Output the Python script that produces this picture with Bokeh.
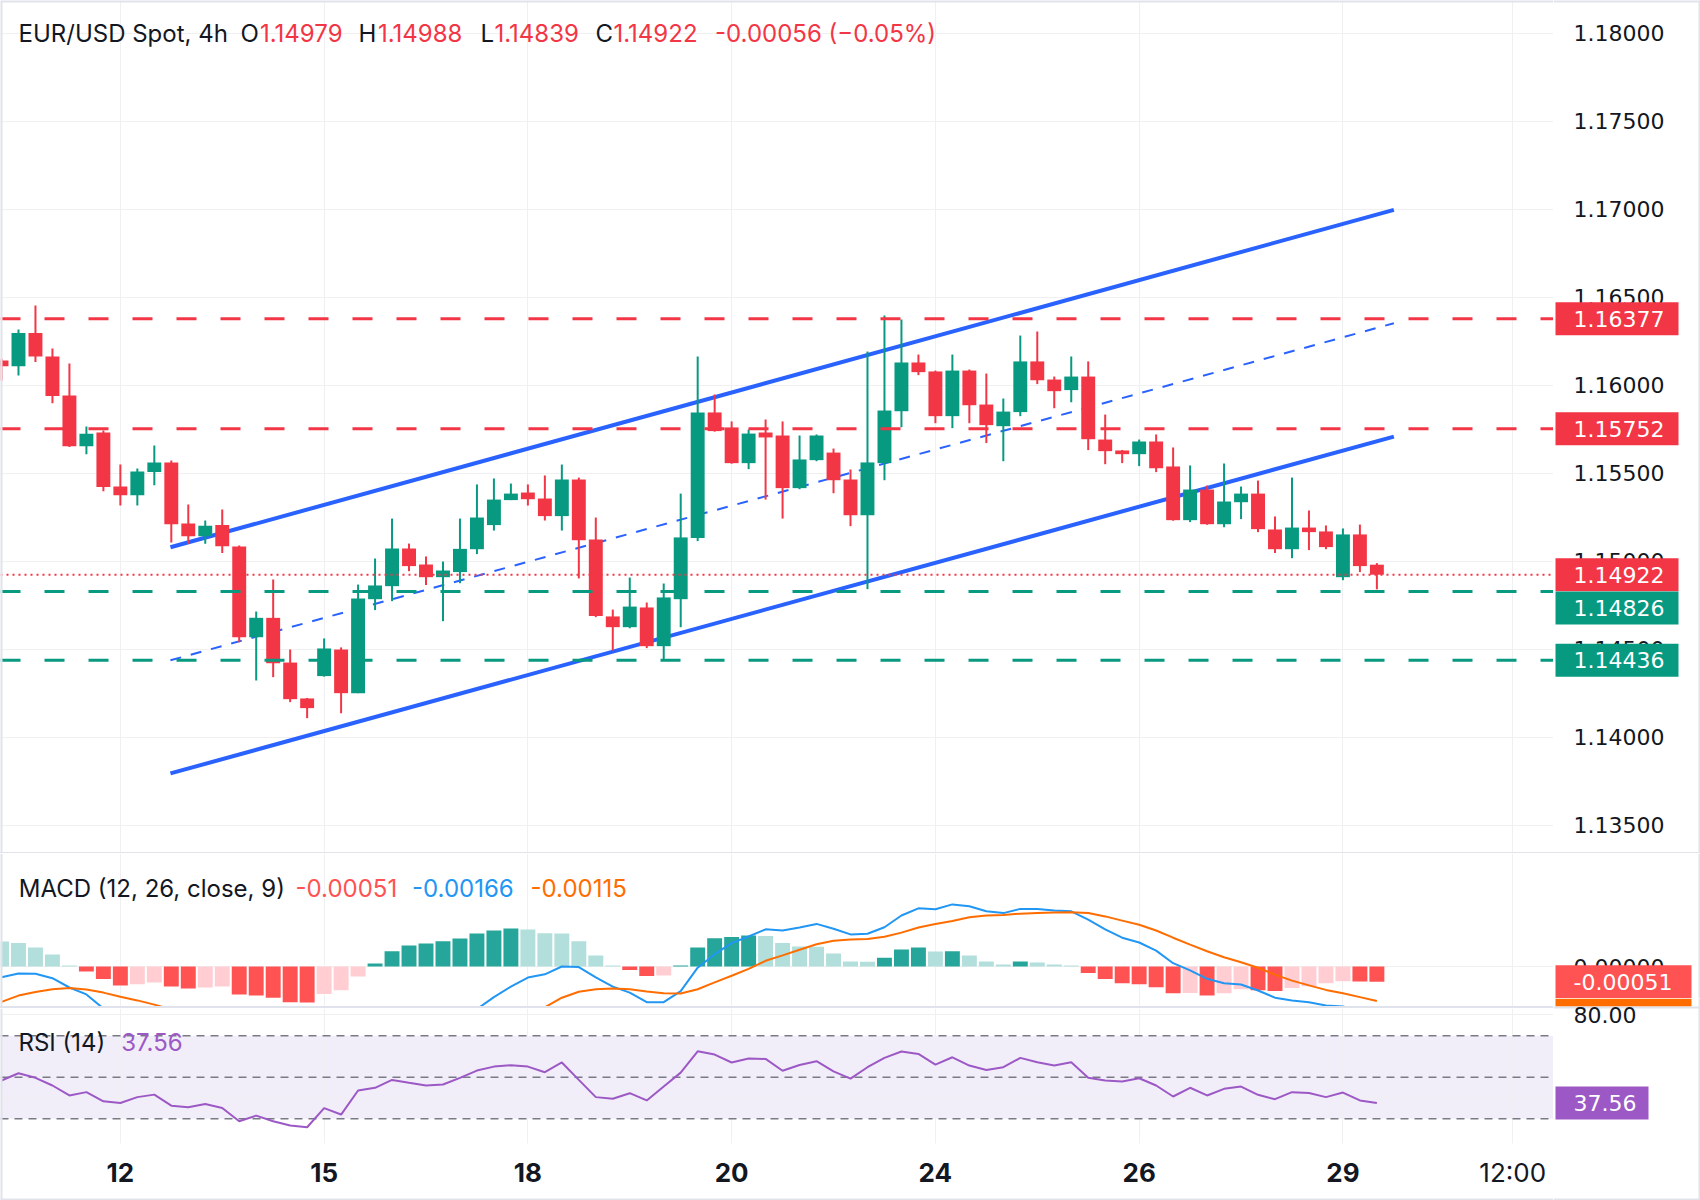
from bokeh.plotting import figure
from bokeh.layouts import column, row
from bokeh.models import Range1d, FixedTicker, Span, Label, BoxAnnotation, Spacer, Grid
from bokeh.core.properties import value
from bokeh.embed import file_html
from bokeh.resources import INLINE

# ---------------- data ----------------
opens = [1.16139, 1.16107, 1.16296, 1.16162, 1.15940, 1.15652, 1.15730, 1.15423, 1.15374, 1.15505,
         1.15560, 1.15213, 1.15141, 1.15205, 1.15082, 1.14567, 1.14677, 1.14423, 1.14219, 1.14346,
         1.14497, 1.14249, 1.14783, 1.14857, 1.15071, 1.14980, 1.14908, 1.14937, 1.15067, 1.15204,
         1.15346, 1.15389, 1.15355, 1.15255, 1.15463, 1.15122, 1.14685, 1.14624, 1.14736, 1.14516,
         1.14783, 1.15130, 1.15844, 1.15759, 1.15556, 1.15730, 1.15713, 1.15414, 1.15573, 1.15616,
         1.15463, 1.15260, 1.15556, 1.15851, 1.16128, 1.16077, 1.15823, 1.16082, 1.15889, 1.15766,
         1.15846, 1.16134, 1.16031, 1.15971, 1.16048, 1.15690, 1.15628, 1.15607, 1.15679, 1.15537,
         1.15232, 1.15406, 1.15209, 1.15334, 1.15383, 1.15179, 1.15067, 1.15190, 1.15168, 1.14908,
         1.15151, 1.14979]
highs = [1.16149, 1.16315, 1.16452, 1.16207, 1.16122, 1.15764, 1.15741, 1.15548, 1.15526, 1.15656,
         1.15571, 1.15321, 1.15230, 1.15293, 1.15088, 1.14713, 1.14895, 1.14497, 1.14222, 1.14560,
         1.14509, 1.14866, 1.15014, 1.15241, 1.15099, 1.15026, 1.14997, 1.15241, 1.15435, 1.15469,
         1.15440, 1.15435, 1.15486, 1.15548, 1.15474, 1.15247, 1.14724, 1.14906, 1.14764, 1.14872,
         1.15383, 1.16162, 1.15946, 1.15793, 1.15747, 1.15804, 1.15793, 1.15713, 1.15719, 1.15639,
         1.15520, 1.16190, 1.16395, 1.16372, 1.16173, 1.16082, 1.16173, 1.16088, 1.16065, 1.15923,
         1.16281, 1.16304, 1.16048, 1.16162, 1.16134, 1.15832, 1.15631, 1.15690, 1.15719, 1.15645,
         1.15543, 1.15429, 1.15554, 1.15423, 1.15457, 1.15253, 1.15474, 1.15287, 1.15202, 1.15185,
         1.15207, 1.14988]
lows = [1.16026, 1.16054, 1.16130, 1.15897, 1.15648, 1.15607, 1.15397, 1.15315, 1.15315, 1.15431,
        1.15105, 1.15098, 1.15098, 1.15045, 1.14539, 1.14321, 1.14340, 1.14198, 1.14107, 1.14343,
        1.14135, 1.14249, 1.14721, 1.14772, 1.14942, 1.14863, 1.14658, 1.14874, 1.15039, 1.15173,
        1.15346, 1.15315, 1.15230, 1.15173, 1.14901, 1.14681, 1.14491, 1.14618, 1.14505, 1.14435,
        1.14624, 1.15113, 1.15735, 1.15553, 1.15522, 1.15349, 1.15241, 1.15408, 1.15567, 1.15385,
        1.15198, 1.14840, 1.15459, 1.15760, 1.16056, 1.15783, 1.15755, 1.15783, 1.15670, 1.15567,
        1.15823, 1.16005, 1.15868, 1.15902, 1.15630, 1.15550, 1.15556, 1.15539, 1.15505, 1.15229,
        1.15221, 1.15206, 1.15192, 1.15238, 1.15164, 1.15045, 1.15016, 1.15062, 1.15067, 1.14891,
        1.14937, 1.14839]
closes = [1.16107, 1.16296, 1.16162, 1.15937, 1.15652, 1.15723, 1.15420, 1.15374, 1.15509, 1.15560,
          1.15209, 1.15141, 1.15200, 1.15084, 1.14567, 1.14677, 1.14419, 1.14215, 1.14164, 1.14503,
          1.14249, 1.14787, 1.14861, 1.15071, 1.14971, 1.14908, 1.14946, 1.15069, 1.15247, 1.15349,
          1.15383, 1.15351, 1.15255, 1.15463, 1.15118, 1.14687, 1.14624, 1.14741, 1.14516, 1.14793,
          1.15134, 1.15844, 1.15738, 1.15556, 1.15724, 1.15702, 1.15414, 1.15577, 1.15713, 1.15459,
          1.15260, 1.15560, 1.15855, 1.16128, 1.16073, 1.15823, 1.16082, 1.15885, 1.15772, 1.15849,
          1.16134, 1.16027, 1.15965, 1.16048, 1.15692, 1.15624, 1.15607, 1.15679, 1.15527, 1.15232,
          1.15406, 1.15209, 1.15338, 1.15383, 1.15181, 1.15067, 1.15190, 1.15164, 1.15079, 1.15151,
          1.14971, 1.14922]

macd_hist = [0.00083, 0.00078, 0.00063, 0.00040, 0.00003, -0.00017, -0.00042, -0.00063, -0.00059, -0.00053,
             -0.00067, -0.00073, -0.00070, -0.00067, -0.00093, -0.00097, -0.00104, -0.00119, -0.00120, -0.00092,
             -0.00079, -0.00033, 0.00010, 0.00051, 0.00070, 0.00077, 0.00084, 0.00093, 0.00110, 0.00120,
             0.00127, 0.00123, 0.00111, 0.00110, 0.00084, 0.00037, 0.00003, -0.00012, -0.00032, -0.00030,
             0.00003, 0.00063, 0.00094, 0.00098, 0.00103, 0.00102, 0.00078, 0.00067, 0.00066, 0.00043,
             0.00017, 0.00016, 0.00029, 0.00057, 0.00063, 0.00050, 0.00051, 0.00037, 0.00017, 0.00007,
             0.00017, 0.00013, 0.00007, 0.00003, -0.00022, -0.00042, -0.00056, -0.00059, -0.00069, -0.00089,
             -0.00088, -0.00097, -0.00089, -0.00076, -0.00079, -0.00082, -0.00072, -0.00066, -0.00056, -0.00049,
             -0.00050, -0.00051]
macd_line = [-0.00036, -0.00023, -0.00024, -0.00039, -0.00070, -0.00093, -0.00140, -0.00164, -0.00172, -0.00180,
             -0.00210, -0.00235, -0.00249, -0.00263, -0.00313, -0.00340, -0.00374, -0.00418, -0.00448, -0.00444,
             -0.00451, -0.00413, -0.00368, -0.00314, -0.00277, -0.00251, -0.00223, -0.00190, -0.00142, -0.00102,
             -0.00067, -0.00037, -0.00026, 0.00000, -0.00002, -0.00036, -0.00067, -0.00087, -0.00119, -0.00119,
             -0.00082, -0.00004, 0.00041, 0.00078, 0.00100, 0.00124, 0.00120, 0.00130, 0.00142, 0.00126,
             0.00107, 0.00109, 0.00131, 0.00170, 0.00194, 0.00191, 0.00207, 0.00201, 0.00184, 0.00178,
             0.00192, 0.00192, 0.00187, 0.00184, 0.00156, 0.00124, 0.00096, 0.00080, 0.00053, 0.00011,
             -0.00013, -0.00041, -0.00056, -0.00060, -0.00080, -0.00104, -0.00113, -0.00119, -0.00130, -0.00133,
             -0.00150, -0.00166]
macd_signal = [-0.00118, -0.00097, -0.00085, -0.00076, -0.00072, -0.00077, -0.00087, -0.00101, -0.00113, -0.00127,
               -0.00143, -0.00162, -0.00179, -0.00196, -0.00219, -0.00243, -0.00270, -0.00299, -0.00329, -0.00352,
               -0.00372, -0.00380, -0.00378, -0.00365, -0.00347, -0.00328, -0.00307, -0.00284, -0.00256, -0.00226,
               -0.00194, -0.00164, -0.00136, -0.00104, -0.00084, -0.00076, -0.00073, -0.00076, -0.00083, -0.00089,
               -0.00090, -0.00076, -0.00053, -0.00031, -0.00008, 0.00019, 0.00037, 0.00056, 0.00074, 0.00086,
               0.00090, 0.00092, 0.00099, 0.00113, 0.00130, 0.00142, 0.00152, 0.00164, 0.00170, 0.00172,
               0.00176, 0.00178, 0.00180, 0.00181, 0.00178, 0.00167, 0.00153, 0.00139, 0.00120, 0.00096,
               0.00073, 0.00051, 0.00031, 0.00014, -0.00004, -0.00027, -0.00047, -0.00063, -0.00078, -0.00089,
               -0.00102, -0.00115]
rsi = [48.4, 51.9, 49.7, 46.0, 41.2, 42.8, 38.4, 37.6, 40.4, 41.6,
       36.3, 35.5, 37.1, 35.2, 28.8, 31.5, 28.8, 26.7, 25.9, 35.1,
       32.0, 43.6, 44.9, 48.7, 47.3, 46.0, 46.5, 49.7, 53.2, 55.1,
       55.8, 55.1, 52.4, 57.1, 48.7, 40.4, 39.6, 42.3, 38.8, 45.5,
       52.2, 62.5, 60.9, 57.1, 59.0, 58.8, 53.1, 55.9, 57.7, 52.8,
       49.3, 54.8, 59.3, 62.4, 61.2, 56.1, 59.6, 55.6, 53.5, 54.8,
       59.3, 57.2, 55.6, 57.2, 49.7, 48.4, 47.9, 49.5, 46.0, 40.7,
       44.9, 41.2, 44.4, 45.5, 41.5, 39.4, 42.8, 42.4, 40.4, 42.6,
       38.8, 37.56]

# channel (bar index, price)
upper_x = [9.95, 82.0]
upper_y = [1.15078, 1.16995]
lower_x = [9.95, 82.0]
lower_y = [1.13793, 1.15707]
mid_x = [9.95, 82.0]
mid_y = [1.14436, 1.16351]

resist_levels = [1.16377, 1.15752]
support_levels = [1.14826, 1.14436]
last_price = 1.14922

price_ticks = [1.135, 1.14, 1.145, 1.15, 1.155, 1.16, 1.165, 1.17, 1.175, 1.18]
macd_ticks = [0.0]
rsi_ticks = [40, 80]
date_ticks = [7, 19, 31, 43, 55, 67, 79, 89]
date_labels = ["12", "15", "18", "20", "24", "26", "29", "12:00"]
date_weights = ["bold"] * 7 + ["normal"]
rsi_levels = [70, 50, 30]

# ---------------- styles ----------------
FONT = "Inter"
AXFONT = "DejaVu Sans"
UP = "#089981"
DN = "#F23645"
BLUE = "#2962FF"
GRID = "#F0F0F2"
SEP = "#E0E3EB"
TXT = "#131722"
PURPLE = "#9C59C6"
FW = 1553           # plot frame width
RB = 147            # price-scale column width
BAR_PX = 16.98
PX_PER_PRICE = 17600.0
MACD_PX = 30000.0   # px per 1.0 of MACD value
x_rng = Range1d(-1 / BAR_PX, (FW - 1) / BAR_PX)
AX_FS = "22px"
LEG_FS = "24px"

idx = list(range(len(opens)))
cols = [UP if c >= o else DN for o, c in zip(opens, closes)]
tops = [max(o, c) for o, c in zip(opens, closes)]
bots = [min(o, c) for o, c in zip(opens, closes)]


def edge(f, loc, dim):
    f.add_layout(Span(location=loc, dimension=dim, line_color=SEP, line_width=4, level="overlay"))


def plot_fig(fh, yr, grid_bounds=None):
    f = figure(frame_width=FW, frame_height=fh, x_range=x_rng, y_range=yr,
               output_backend="svg", toolbar_location=None,
               x_axis_location=None, y_axis_location=None,
               min_border_left=0, min_border_right=0, min_border_top=0,
               min_border_bottom=0, outline_line_color=None,
               background_fill_color="white", border_fill_color="white")
    f.grid.grid_line_color = None
    g = Grid(dimension=0, ticker=FixedTicker(ticks=date_ticks), grid_line_color=GRID, grid_line_width=1)
    if grid_bounds is not None:
        g.cross_bounds = grid_bounds
    f.add_layout(g)
    edge(f, x_rng.start, "height")
    return f


def scale_fig(fh, yr):
    f = figure(frame_width=RB, frame_height=fh, x_range=Range1d(0, RB), y_range=yr,
               output_backend="svg", toolbar_location=None,
               x_axis_location=None, y_axis_location=None,
               min_border_left=0, min_border_right=0, min_border_top=0,
               min_border_bottom=0, outline_line_color=None,
               background_fill_color="white", border_fill_color="white")
    f.grid.grid_line_color = None
    edge(f, RB, "height")
    return f


def scale_labels(f, ticks, fmt):
    f.text(x=[20] * len(ticks), y=ticks, text=[fmt % t for t in ticks],
           text_font=value(AXFONT), text_font_size=AX_FS, text_color=TXT,
           text_align="left", text_baseline="middle")


def tag_boxes(f, ys, colors, widths):
    f.rect(x=[2 + w / 2 for w in widths], y=ys, width=widths, height=33,
           height_units="screen", fill_color=colors, line_color=None)


def tag_texts(f, ys, texts):
    f.text(x=[20] * len(ys), y=ys, text=texts, text_font=value(AXFONT), text_font_size=AX_FS,
           text_color="white", text_align="left", text_baseline="middle")


def legend(f, x, y, text, color):
    f.add_layout(Label(x=x, y=y, x_units="screen", y_units="screen", text=text,
                       text_color=color, text_font=FONT, text_font_size=LEG_FS,
                       text_baseline="middle", text_align="left"))


# ---------------- price panel ----------------
MH = 852
ptop = 1.18 + 32.5 / PX_PER_PRICE
prng = Range1d(ptop - MH / PX_PER_PRICE, ptop)
p = plot_fig(MH, prng)
p.add_layout(Grid(dimension=1, ticker=FixedTicker(ticks=price_ticks), grid_line_color=GRID))
edge(p, ptop, "width")

for lv in resist_levels:
    p.add_layout(Span(location=lv, dimension="width", line_color=DN, line_width=3, line_dash="20 24"))
for lv in support_levels:
    p.add_layout(Span(location=lv, dimension="width", line_color=UP, line_width=3, line_dash="20 24"))
p.add_layout(Span(location=last_price, dimension="width", line_color=DN, line_width=2, line_dash="2 4"))

p.line(upper_x, upper_y, line_color=BLUE, line_width=4)
p.line(lower_x, lower_y, line_color=BLUE, line_width=4)
p.line(mid_x, mid_y, line_color=BLUE, line_width=2, line_dash="11 10")

p.segment(x0=idx, y0=lows, x1=idx, y1=highs, line_color=cols, line_width=2)
p.vbar(x=idx, width=0.82, top=tops, bottom=bots, fill_color=cols, line_color=None)

ty = MH - 32.5
legend(p, 18, ty, "EUR/USD Spot, 4h", TXT)
legend(p, 240, ty, "O", TXT)
legend(p, 259.5, ty, f"{opens[-1]:.5f}", DN)
legend(p, 358, ty, "H", TXT)
legend(p, 377.5, ty, f"{highs[-1]:.5f}", DN)
legend(p, 480, ty, "L", TXT)
legend(p, 494, ty, f"{lows[-1]:.5f}", DN)
legend(p, 595, ty, "C", TXT)
legend(p, 613, ty, f"{closes[-1]:.5f}", DN)
legend(p, 714.5, ty, "-0.00056 (\u22120.05%)", DN)

pa = scale_fig(MH, prng)
edge(pa, ptop, "width")
scale_labels(pa, price_ticks, "%.5f")
tag_levels = [resist_levels[0], resist_levels[1], last_price, support_levels[0], support_levels[1]]
tag_shift_px = [0, 0, 0, 16.5, 0]   # pushed down to avoid overlapping the last-price tag
tag_y = [lv - s / PX_PER_PRICE for lv, s in zip(tag_levels, tag_shift_px)]
tag_boxes(pa, tag_y, [DN, DN, DN, UP, UP], [123] * 5)
tag_texts(pa, tag_y, [f"{lv:.5f}" for lv in tag_levels])

# ---------------- MACD panel ----------------
DH = 153
M_TOP = 0.0037667
mrng = Range1d(M_TOP - DH / MACD_PX, M_TOP)
pm = plot_fig(DH, mrng)
pm.add_layout(Grid(dimension=1, ticker=FixedTicker(ticks=macd_ticks), grid_line_color=GRID))

hcols = []
for i, h in enumerate(macd_hist):
    prev = macd_hist[i - 1] if i > 0 else h + 1e-5
    if h >= 0:
        hcols.append("#26A69A" if h > prev else "#B2DFDB")
    else:
        hcols.append("#FF5252" if h < prev else "#FFCDD2")
pm.vbar(x=idx, width=0.88, top=[max(h, 0) for h in macd_hist], bottom=[min(h, 0) for h in macd_hist],
        fill_color=hcols, line_color=None)
pm.line(idx, macd_line, line_color="#2196F3", line_width=2)
pm.line(idx, macd_signal, line_color="#FF6D00", line_width=2)

my = DH - 34.7
legend(pm, 18.3, my, "MACD (12, 26, close, 9)", TXT)
legend(pm, 295, my, f"{macd_hist[-1]:.5f}", "#FF5252")
legend(pm, 411.5, my, f"{macd_line[-1]:.5f}", "#2196F3")
legend(pm, 530, my, f"{macd_signal[-1]:.5f}", "#FF6D00")

# MACD price-scale cell stops 8 px above the pane edge so the RSI scale cell can hold
# its top label whole; the lower part of the scale column is drawn by the RSI cell.
DH_S = DH - 8
pma = scale_fig(DH_S, Range1d(M_TOP - DH_S / MACD_PX, M_TOP))
scale_labels(pma, macd_ticks, "%.5f")
tag_boxes(pma, [macd_hist[-1], macd_hist[-1] - 33 / MACD_PX], ["#FF5252", "#FF6D00"], [136, 136])
tag_texts(pma, [macd_hist[-1]], [f"{macd_hist[-1]:.5f}"])

# ---------------- RSI panel (frame also holds the time scale strip) ----------------
RH = 135
STRIP = 57
SEP2 = 2
RSI_TOP, RSI_BOT = 83.11, 18.05
rsi_px = RH / (RSI_TOP - RSI_BOT)
rrng = Range1d(RSI_BOT - STRIP / rsi_px, RSI_TOP)
pr = plot_fig(RH + STRIP, rrng, grid_bounds=(RSI_BOT, RSI_TOP))
edge(pr, rrng.start, "width")
pr.add_layout(Grid(dimension=1, ticker=FixedTicker(ticks=rsi_ticks), grid_line_color=GRID))
pr.add_layout(BoxAnnotation(bottom=rsi_levels[2], top=rsi_levels[0], fill_color="#7E57C2",
                            fill_alpha=0.1, line_color=None, level="image"))
for lv in rsi_levels:
    pr.add_layout(Span(location=lv, dimension="width", line_color="#787B86", line_width=1.5,
                       line_dash="8 6", level="underlay"))
pr.line(idx, rsi, line_color=PURPLE, line_width=2)
legend(pr, 18, RH + STRIP - 33.7, "RSI (14)", TXT)
legend(pr, 120.7, RH + STRIP - 33.7, f"{rsi[-1]:.2f}", PURPLE)

# time scale labels, placed by the shared x scale
pr.extra_y_ranges = {"strip": Range1d(0, RH + STRIP)}
pr.text(x=date_ticks, y=[28] * len(date_ticks), text=date_labels, y_range_name="strip",
        text_font=value(FONT), text_font_size="26px", text_font_style=date_weights,
        text_color=TXT, text_align="center", text_baseline="middle")

# RSI scale cell: starts 8 px inside the MACD pane, then the pane separator, then the RSI scale
extra = 8 + SEP2
pra = scale_fig(RH + STRIP + extra, Range1d(rrng.start, RSI_TOP + extra / rsi_px))
edge(pra, rrng.start, "width")
sig_tag_top = RSI_TOP + extra / rsi_px
sep_top = RSI_TOP + SEP2 / rsi_px
pra.quad(left=[2], right=[138], top=[sig_tag_top], bottom=[sep_top], fill_color="#FF6D00", line_color=None)
pra.quad(left=[0], right=[RB], top=[sep_top], bottom=[RSI_TOP], fill_color=SEP, line_color=None)
scale_labels(pra, rsi_ticks, "%.2f")
tag_boxes(pra, [rsi[-1]], [PURPLE], [93])
tag_texts(pra, [rsi[-1]], [f"{rsi[-1]:.2f}"])

layout = column(row(p, pa, spacing=0),
                Spacer(width=1700, height=1, styles={"background-color": SEP}),
                row(column(pm,
                           Spacer(width=FW, height=SEP2, styles={"background-color": SEP}),
                           pr, spacing=0),
                    column(pma, pra, spacing=0), spacing=0),
                spacing=0)

html = file_html(layout, INLINE, title="EUR/USD Spot, 4h")
with open("out.html", "w") as fh_:
    fh_.write(html)
